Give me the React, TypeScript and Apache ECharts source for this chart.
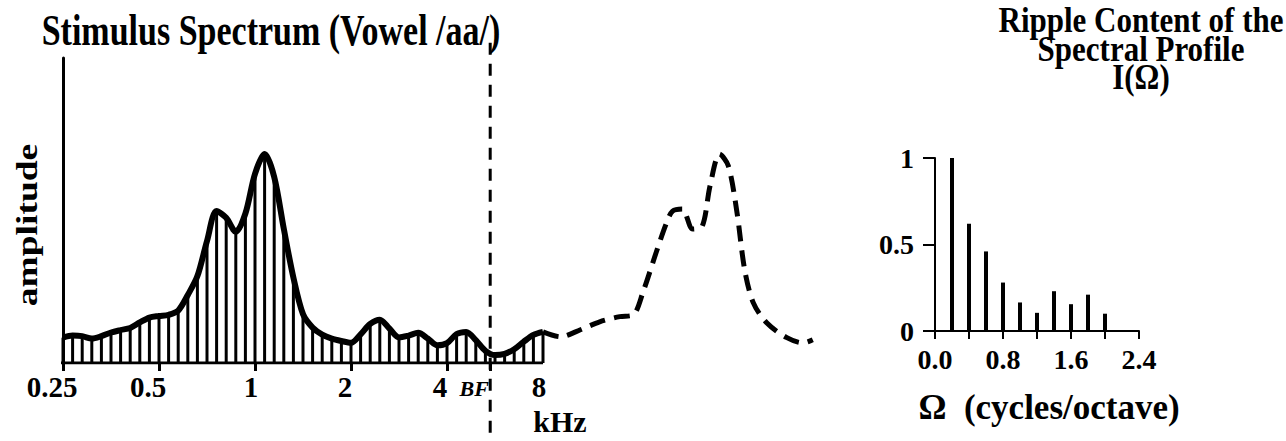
import React, { useEffect, useRef } from 'react';
import * as echarts from 'echarts';

// ---- data ----
const octaveTicks = [-2, -1, 0, 1, 2, 3]; // log2(kHz)
const kHzLabels = ['0.25', '0.5', '1', '2', '4', '8'];
const bfOctave = 2.45;
const spectrumStartOctave = -2;
const spectrumStepOctave = 0.1;
const spectrumAmp = [
  8.3, 9.0, 8.8, 8.0, 8.8, 10.0, 10.8, 11.5, 13.3, 14.9,
  15.4, 15.8, 17.2, 22.3, 28.5, 40, 49.8, 47.6, 43, 49,
  62, 68.5, 61, 44, 28, 16, 11.6, 9.3, 8.0, 7.2,
  6.6, 9.4, 12.8, 14.2, 11.3, 8.4, 9.0, 9.9, 8.0, 5.8,
  6.5, 9.5, 10.2, 7.5, 4.0, 2.6, 3.0, 4.5, 7.0, 9.2, 10.2,
];
const shiftedOctave = [3.0, 3.18, 3.39, 3.59, 3.8, 3.94, 4.04, 4.19, 4.29, 4.35, 4.45, 4.56, 4.66, 4.74, 4.84, 4.93, 5.02, 5.1, 5.19, 5.33, 5.54, 5.71, 5.81];
const shiftedAmp = [10.2, 8.6, 10.9, 13.5, 15.2, 15.8, 23.1, 37.3, 46.2, 49.8, 50.5, 43.9, 44.9, 58.1, 68.5, 64.7, 49.5, 30.7, 19.8, 13.2, 8.3, 6.6, 7.6];
const omega = [0.2, 0.4, 0.6, 0.8, 1.0, 1.2, 1.4, 1.6, 1.8, 2.0];
const ripple = [1.0, 0.62, 0.46, 0.28, 0.165, 0.105, 0.23, 0.155, 0.21, 0.1];
const omegaTicks = [0, 0.4, 0.8, 1.2, 1.6, 2.0, 2.4];
const omegaLabels = [0, 0.8, 1.6, 2.4];
const rippleTicks = [0, 0.5, 1];

const FONT = "'Liberation Serif', 'Times New Roman', serif";
const labelShiftPx = [11, 11, 4, 6, 7, 4];

export default function App() {
  const ref = useRef<HTMLDivElement>(null);
  useEffect(() => {
    if (!ref.current) return;
    const chart = echarts.init(ref.current, undefined, { renderer: 'svg' });
    const spectrum = spectrumAmp.map((a, i) => [spectrumStartOctave + i * spectrumStepOctave, a]);
    const shifted = shiftedOctave.map((o, i) => [o, shiftedAmp[i]]);
    const rippleData = omega.map((o, i) => [o, ripple[i]]);
    const black = '#000';
    const txt = (text: string, x: number, y: number, size: number, extra: any = {}, style: any = {}) => ({
      type: 'text',
      x,
      y,
      ...extra,
      style: {
        text,
        x: 0,
        y: 0,
        fill: black,
        fontFamily: FONT,
        fontWeight: 'bold',
        fontSize: size,
        align: 'center',
        verticalAlign: 'middle',
        textAlign: 'center',
        textVerticalAlign: 'middle',
        ...style,
      },
    });
    const rich: any = {
      bf: { fontFamily: FONT, fontWeight: 'bold', fontStyle: 'italic', fontSize: 22, color: black, padding: [5, 32, 0, 0] },
    };
    labelShiftPx.forEach((s, i) => {
      rich['n' + i] = { fontFamily: FONT, fontWeight: 'bold', fontSize: 29, color: black, padding: [0, s * 2, 0, 0] };
    });

    chart.setOption({
      animation: false,
      backgroundColor: '#fff',
      grid: [
        { left: 63, top: 58, width: 758.4, height: 305 },
        { left: 935, top: 158, width: 204, height: 173 },
      ],
      xAxis: [
        {
          gridIndex: 0,
          type: 'value',
          min: -2,
          max: 5.9,
          axisLine: { show: false, onZero: false },
          splitLine: { show: false },
          axisTick: {
            show: true,
            customValues: [...octaveTicks.slice(0, 5), bfOctave],
            length: 8,
            lineStyle: { color: black, width: 3 },
          },
          axisLabel: {
            customValues: [...octaveTicks, bfOctave],
            margin: 9,
            color: black,
            formatter: (v: number) => {
              if (Math.abs(v - bfOctave) < 1e-6) return '{bf|BF}';
              const i = octaveTicks.findIndex((t) => Math.abs(t - v) < 1e-6);
              return i >= 0 ? '{n' + i + '|' + kHzLabels[i] + '}' : '';
            },
            rich,
          },
        },
        {
          gridIndex: 1,
          type: 'value',
          min: 0,
          max: 2.4,
          axisLine: { show: true, onZero: false, lineStyle: { color: black, width: 2 } },
          splitLine: { show: false },
          axisTick: { show: true, customValues: omegaTicks, length: 8, lineStyle: { color: black, width: 2 } },
          axisLabel: {
            customValues: omegaLabels,
            formatter: (v: number) => v.toFixed(1),
            margin: 14,
            color: black,
            fontFamily: FONT,
            fontWeight: 'bold',
            fontSize: 28,
          },
        },
      ],
      yAxis: [
        {
          gridIndex: 0,
          type: 'value',
          min: 0,
          max: 100,
          axisLine: { show: true, onZero: false, lineStyle: { color: black, width: 3 } },
          axisTick: { show: false },
          axisLabel: { show: false },
          splitLine: { show: false },
        },
        {
          gridIndex: 1,
          type: 'value',
          min: 0,
          max: 1,
          axisLine: { show: true, onZero: false, lineStyle: { color: black, width: 2 } },
          axisTick: { show: true, customValues: rippleTicks, length: 12, lineStyle: { color: black, width: 2 } },
          axisLabel: {
            customValues: rippleTicks,
            formatter: (v: number) => (v === 0 ? '0' : v === 1 ? '1' : '0.5'),
            margin: 21,
            color: black,
            fontFamily: FONT,
            fontWeight: 'bold',
            fontSize: 28,
          },
          splitLine: { show: false },
        },
      ],
      series: [
        {
          name: 'stems',
          type: 'bar',
          xAxisIndex: 0,
          yAxisIndex: 0,
          data: spectrum,
          barWidth: 3,
          itemStyle: { color: black },
          z: 2,
        },
        {
          name: 'baseline',
          type: 'line',
          xAxisIndex: 0,
          yAxisIndex: 0,
          data: [[-2.03, 0], [3, 0]],
          showSymbol: false,
          lineStyle: { color: black, width: 3 },
          z: 3,
        },
        {
          name: 'spectrum',
          type: 'line',
          xAxisIndex: 0,
          yAxisIndex: 0,
          data: spectrum,
          smooth: 0.3,
          showSymbol: false,
          lineStyle: { color: black, width: 6 },
          z: 4,
        },
        {
          name: 'shifted',
          type: 'line',
          xAxisIndex: 0,
          yAxisIndex: 0,
          data: shifted,
          smooth: 0.3,
          showSymbol: false,
          lineStyle: { color: black, width: 5, type: [16, 9] },
          z: 4,
        },
        {
          name: 'BF',
          type: 'line',
          xAxisIndex: 0,
          yAxisIndex: 0,
          data: [[bfOctave, 105], [bfOctave, -26]],
          clip: false,
          showSymbol: false,
          lineStyle: { color: black, width: 3, type: [12, 9] },
          z: 5,
        },
        {
          name: 'ripple',
          type: 'bar',
          xAxisIndex: 1,
          yAxisIndex: 1,
          data: rippleData,
          barWidth: 4,
          itemStyle: { color: black },
        },
      ],
      graphic: [
        txt('Stimulus Spectrum (Vowel /aa/)', 271, 30, 34, { scaleY: 1.3 }),
        txt('amplitude', 27, 225, 30, { rotation: Math.PI / 2, scaleX: 1.25 }),
        txt('kHz', 560, 421, 30),
        txt('Ripple Content of the', 1141, 20, 31, { scaleY: 1.15 }),
        txt('Spectral Profile', 1141, 49, 31, { scaleY: 1.15 }),
        txt('I(Ω)', 1141, 77, 31, { scaleY: 1.15 }),
        txt('Ω  (cycles/octave)', 1049, 407, 35),
      ],
    });
    return () => chart.dispose();
  }, []);
  return <div ref={ref} style={{ position: 'fixed', left: 0, top: 0, width: 1286, height: 441 }} />;
}
